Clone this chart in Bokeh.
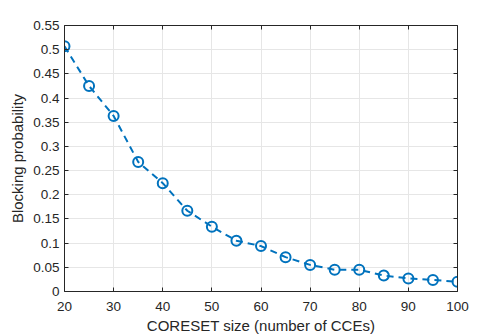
from bokeh.plotting import figure
from bokeh.models import (LinearAxis, FixedTicker, ColumnDataSource, Range1d,
                          CustomLabelingPolicy)
from bokeh.embed import file_html
from bokeh.resources import INLINE

# Data
coreset_size = [20, 25, 30, 35, 40, 45, 50, 55, 60, 65, 70, 75, 80, 85, 90, 95, 100]
blocking_prob = [0.507, 0.425, 0.363, 0.268, 0.224, 0.167, 0.134, 0.105, 0.094,
                 0.071, 0.055, 0.045, 0.045, 0.033, 0.027, 0.024, 0.020]

x_ticks = [20, 30, 40, 50, 60, 70, 80, 90, 100]
y_ticks = [0, 0.05, 0.1, 0.15, 0.2, 0.25, 0.3, 0.35, 0.4, 0.45, 0.5, 0.55]
y_tick_labels = ["0", "0.05", "0.1", "0.15", "0.2", "0.25", "0.3", "0.35",
                 "0.4", "0.45", "0.5", "0.55"]

x_label = "CORESET size (number of CCEs)"
y_label = "Blocking probability"

FONT = "Liberation Sans"
TXT = "#262626"
BLUE = "#0072BD"

src = ColumnDataSource(dict(x=coreset_size, y=blocking_prob))

p = figure(width=491, height=336, output_backend="svg", toolbar_location=None,
           x_range=Range1d(20, 100), y_range=Range1d(0, 0.55),
           min_border_left=64, min_border_right=34, min_border_top=25,
           min_border_bottom=44)
p.outline_line_color = None
p.background_fill_color = "white"
p.border_fill_color = "white"

p.line("x", "y", source=src, line_color=BLUE, line_width=2, line_dash="7 5")
p.scatter("x", "y", source=src, marker="circle", size=10, line_color=BLUE,
          line_width=2, fill_color=None)

def style_axis(ax, show_labels=True):
    ax.axis_line_color = TXT
    ax.axis_line_width = 1
    ax.major_tick_line_color = TXT
    ax.major_tick_in = 4
    ax.major_tick_out = 0
    ax.minor_tick_line_color = None
    ax.major_label_text_font = FONT
    ax.major_label_text_color = TXT
    ax.axis_label_text_font = FONT
    ax.axis_label_text_color = TXT
    ax.axis_label_text_font_style = "normal"
    if not show_labels:
        ax.major_label_standoff = 0
        ax.major_label_policy = CustomLabelingPolicy(code="return new Set()")

xa = p.xaxis[0]
ya = p.yaxis[0]
xa.ticker = FixedTicker(ticks=x_ticks)
ya.ticker = FixedTicker(ticks=y_ticks)
ya.major_label_overrides = {t: l for t, l in zip(y_ticks, y_tick_labels)}
style_axis(xa)
style_axis(ya)
xa.axis_label = x_label
ya.axis_label = y_label
xa.major_label_text_font_size = "13.5px"
ya.major_label_text_font_size = "13.5px"
xa.axis_label_text_font_size = "15px"
ya.axis_label_text_font_size = "15px"
xa.major_label_standoff = 10
xa.axis_label_standoff = 3
ya.major_label_standoff = 5
ya.axis_label_standoff = 4

top = LinearAxis(ticker=FixedTicker(ticks=x_ticks))
right = LinearAxis(ticker=FixedTicker(ticks=y_ticks))
style_axis(top, False)
style_axis(right, False)
p.add_layout(top, "above")
p.add_layout(right, "right")

p.xgrid.ticker = FixedTicker(ticks=x_ticks)
p.ygrid.ticker = FixedTicker(ticks=y_ticks)
p.grid.grid_line_color = "#e6e6e6"
p.grid.grid_line_width = 1

open("out.html", "w").write(file_html(p, INLINE))
